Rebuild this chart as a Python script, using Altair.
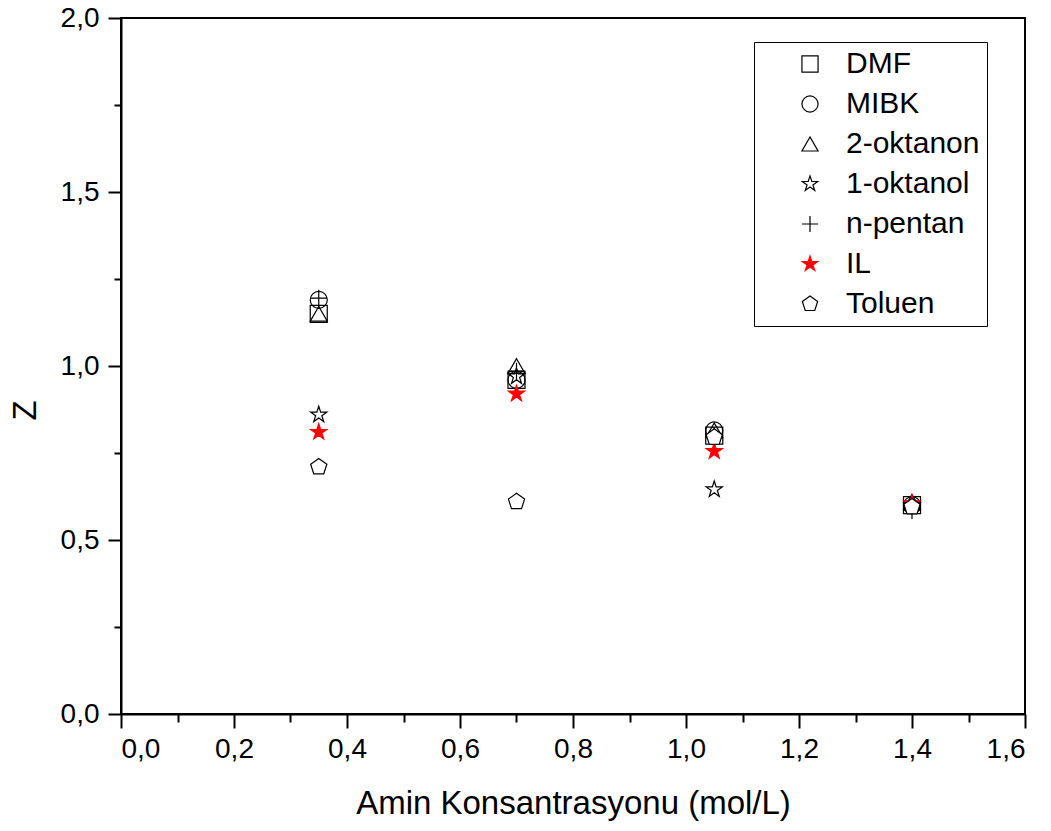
import altair as alt
import pandas as pd

x_vals = [0.35, 0.70, 1.05, 1.40]
series_names = ["DMF", "MIBK", "2-oktanon", "1-oktanol", "n-pentan", "IL", "Toluen"]
dmf = [1.15, 0.96, 0.80, 0.60]
mibk = [1.19, 0.96, 0.815, 0.60]
oktanon = [1.15, 1.00, 0.815, 0.61]
oktanol = [0.86, 0.97, 0.645, 0.60]
pentan = [1.195, 0.985, 0.80, 0.585]
il = [0.81, 0.92, 0.755, 0.605]
toluen = [0.71, 0.61, 0.795, 0.595]

x_major = [0.0, 0.2, 0.4, 0.6, 0.8, 1.0, 1.2, 1.4, 1.6]
x_minor = [0.1, 0.3, 0.5, 0.7, 0.9, 1.1, 1.3, 1.5]
y_major = [0.0, 0.5, 1.0, 1.5, 2.0]
y_minor = [0.25, 0.75, 1.25, 1.75]

all_series = [dmf, mibk, oktanon, oktanol, pentan, il, toluen]
rows = []
for name, vals in zip(series_names, all_series):
    for xv, yv in zip(x_vals, vals):
        rows.append({"x": xv, "z": yv, "s": name})
df = pd.DataFrame(rows)

star = ("M0,-1L0.2245,-0.309L0.951,-0.309L0.363,0.118L0.588,0.809L0,0.382"
        "L-0.588,0.809L-0.363,0.118L-0.951,-0.309L-0.2245,-0.309Z")
pent = "M0,-1L0.951,-0.309L0.588,0.809L-0.588,0.809L-0.951,-0.309Z"
plus = "M-1,0L1,0M0,-1L0,1"
shapes = ["square", "circle", "triangle-up", star, plus, star, pent]
strokes = ["black"] * 5 + ["red", "black"]
fills = ["transparent"] * 5 + ["red", "white"]

FONT = "Liberation Sans"
label_expr = "replace(format(datum.value, '.1f'), '.', ',')"

xscale = alt.Scale(domain=[0, 1.6], nice=False, zero=False)
yscale = alt.Scale(domain=[0, 2.0], nice=False, zero=False)

legend = alt.Legend(
    title=None, orient="none", legendX=633, legendY=24,
    labelFontSize=30, labelFont=FONT, labelColor="black",
    symbolSize=260, symbolStrokeWidth=1.2, rowPadding=10,
    padding=7, strokeColor="black", fillColor="white",
    labelOffset=21, symbolOffset=34,
)

points = alt.Chart(df).mark_point(size=290, strokeWidth=1.2, opacity=1, filled=False).encode(
    x=alt.X("x:Q", scale=xscale,
            axis=alt.Axis(orient="bottom", values=x_major, labelExpr=label_expr,
                          title="Amin Konsantrasyonu (mol/L)", grid=False,
                          tickSize=14, tickWidth=2, domainWidth=2, domainColor="black",
                          tickColor="black", labelFontSize=28, labelFont=FONT,
                          labelColor="black", labelPadding=7, titleFontSize=33,
                          titleFont=FONT, titleFontWeight="normal", titlePadding=24,
                          titleColor="black")),
    y=alt.Y("z:Q", scale=yscale,
            axis=alt.Axis(orient="left", values=y_major, labelExpr=label_expr,
                          title="Z", grid=False,
                          tickSize=13, tickWidth=2, domainWidth=2, domainColor="black",
                          tickColor="black", labelFontSize=28, labelFont=FONT,
                          labelColor="black", labelPadding=9, titleFontSize=33,
                          titleFont=FONT, titleFontWeight="normal",
                          titleX=-96, titleY=392, titleBaseline="middle",
                          titleAlign="center", titleAngle=270,
                          titleColor="black")),
    shape=alt.Shape("s:N", scale=alt.Scale(domain=series_names, range=shapes), legend=legend),
    stroke=alt.Stroke("s:N", scale=alt.Scale(domain=series_names, range=strokes), legend=legend),
    fill=alt.Fill("s:N", scale=alt.Scale(domain=series_names, range=fills), legend=legend),
    order=alt.Order("ord:Q"),
).transform_calculate(
    ord="indexof(['DMF','MIBK','2-oktanon','1-oktanol','n-pentan','IL','Toluen'], datum.s)"
)

minor_df = pd.DataFrame({"x": [x_minor[0]], "z": [y_minor[0]]})
minor = alt.Chart(minor_df).mark_point(opacity=0).encode(
    x=alt.X("x:Q", scale=xscale,
            axis=alt.Axis(orient="bottom", values=x_minor, labels=False, title=None,
                          grid=False, domain=False, tickSize=8, tickWidth=2,
                          tickColor="black")),
    y=alt.Y("z:Q", scale=yscale,
            axis=alt.Axis(orient="left", values=y_minor, labels=False, title=None,
                          grid=False, domain=False, tickSize=7, tickWidth=2,
                          tickColor="black")),
)

chart = alt.layer(points, minor).resolve_axis(x="independent", y="independent").properties(
    width=904, height=696,
    autosize=alt.AutoSizeParams(type="none"),
    padding={"left": 121, "top": 18, "right": 26, "bottom": 117},
    background="white",
).configure_view(stroke="black", strokeWidth=2)

chart.save("out.html", embed_options={"renderer": "svg", "actions": False})
